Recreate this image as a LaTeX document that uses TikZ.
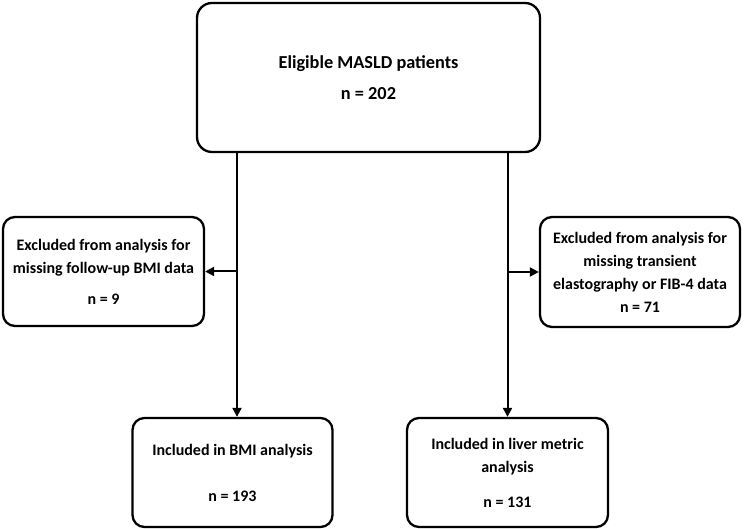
\documentclass[tikz,border=0pt]{standalone}
\usepackage{fontspec}
\setmainfont{Carlito}
\usetikzlibrary{arrows.meta}
\begin{document}
\begin{tikzpicture}[x=1pt,y=-1pt,
  box/.style={draw, line width=2.3pt, rounded corners=12pt, align=center, inner sep=0pt,
    font=\bfseries\fontsize{16}{23}\selectfont},
  arr/.style={line width=2pt, -{Triangle[length=9pt,width=9pt]}}]
\useasboundingbox (0,0) rectangle (744,529);
\node[box, minimum width=343pt, minimum height=149pt, rounded corners=15pt,
  font=\bfseries\fontsize{18.3}{26}\selectfont] (top) at (368.5,77.5)
  {Eligible MASLD patients\\[5pt] n = 202};
\node[box, minimum width=201pt, minimum height=109pt] (ex1) at (103.5,271.5)
  {Excluded from analysis for\\ missing follow-up BMI data\\[8pt] n = 9};
\node[box, minimum width=200pt, minimum height=110pt] (ex2) at (640,272)
  {Excluded from analysis for\\ missing transient\\ elastography or FIB-4 data\\ n = 71};
\node[box, minimum width=200pt, minimum height=109pt] (bl) at (232.5,472.5)
  {Included in BMI analysis\\[23pt] n = 193};
\node[box, minimum width=201pt, minimum height=109pt] (br) at (507.5,472.5)
  {Included in liver metric\\ analysis\\[12pt] n = 131};
\path (bl.north) ++(4.5,0) coordinate (blin);
\draw[arr] (top.south -| blin) -- (blin);
\draw[arr] (top.south -| br.north) -- (br.north);
\draw[arr] (ex1.east -| blin) -- (ex1.east);
\draw[arr] (ex2.west -| br.north) -- (ex2.west);
\end{tikzpicture}
\end{document}
